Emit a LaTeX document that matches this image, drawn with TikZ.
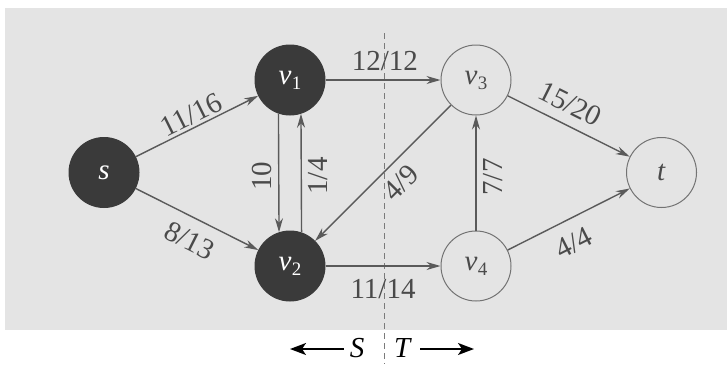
\documentclass[tikz,border=0pt]{standalone}
\usepackage{fontspec}
\setmainfont{Liberation Serif}
\usetikzlibrary{arrows.meta,calc}
\definecolor{bgstip}{HTML}{E4E4E4}
\definecolor{darknode}{HTML}{3A3A3A}
\definecolor{edgecol}{HTML}{5A5A5A}
\definecolor{lblcol}{HTML}{4A4A4A}
\newcommand\vlab[1]{\textit{v}\kern0.5pt\raisebox{-5pt}{\fontsize{19}{19}\selectfont #1}}
\begin{document}
\begin{tikzpicture}[x=1pt,y=-1pt,
  every node/.style={font=\fontsize{29}{33}\selectfont},
  vert/.style={circle, minimum size=70pt, inner sep=0pt, line width=1pt},
  darkv/.style={vert, fill=darknode, draw=darknode, text=white},
  lightv/.style={vert, draw=edgecol!85, text=lblcol},
  flow/.style={line width=1.4pt, draw=edgecol, -{Stealth[length=14pt,width=8pt]}},
  lbl/.style={text=lblcol, inner sep=1pt},
  cutline/.style={draw=edgecol!80, line width=1pt, dash pattern=on 6pt off 4pt},
  bigarrow/.style={line width=1.8pt, draw=black, -{Stealth[length=16pt,width=12pt,inset=4pt]}},
]
\useasboundingbox (0,0) rectangle (727,364);
\fill[bgstip] (5,8) rectangle (727,330);

\coordinate (dtop) at (384,33);
\coordinate (dbot) at (384,364);
\draw[cutline] (dtop) -- (dbot);

\node[darkv] (s) at (104,172.5) {\textit{s}};
\node[darkv] (v1) at (290,80) {\vlab{1}};
\node[darkv] (v2) at (290,266) {\vlab{2}};
\node[lightv] (v3) at (476,80) {\vlab{3}};
\node[lightv] (v4) at (476,266) {\vlab{4}};
\node[lightv] (t) at (661.5,172.5) {\textit{t}};

\draw[flow] (s) -- node[lbl, sloped, above=1.5pt, pos=.5] {11/16} (v1);
\draw[flow] (s) -- node[lbl, sloped, below=11pt, pos=.52] {8/13} (v2);
\draw[flow] (v1) -- node[lbl, above=7.5pt, pos=.517] {12/12} (v3);
\draw[flow] (v2) -- node[lbl, below=12pt, pos=.5] {11/14} (v4);
\draw[flow] (v1.251.7) -- (v2.108.3);
\draw[flow] (v2.71.7) -- (v1.288.3);
\draw[flow] (v3) -- node[lbl, sloped, below=8pt, pos=.471] {4/9} (v2);
\draw[flow] (v4) -- (v3);
\draw[flow] (v3) -- node[lbl, sloped, above=9pt, pos=.436] {15/20} (t);
\draw[flow] (v4) -- node[lbl, sloped, below=12pt, pos=.453] {4/4} (t);

\node[lbl, rotate=90] (l10) at ($(v1)!.5!(v2)+(-28,3)$) {10};
\node[lbl, rotate=90] (l14) at ($(v1)!.5!(v2)+(28,3)$) {1/4};
\node[lbl, rotate=90] (l77) at ($(v3)!.5!(v4)+(17,4)$) {7/7};

\node[text=black, inner sep=2pt] (S) at (357,348) {\textit{S}};
\node[text=black, inner sep=2pt] (T) at (403,348) {\textit{T}};
\coordinate (la) at (290,349);
\coordinate (ra) at (474,349);
\draw[bigarrow] ([xshift=-4pt]S.west |- la) -- (la);
\draw[bigarrow] ([xshift=6pt]T.east |- ra) -- (ra);
\end{tikzpicture}
\end{document}
